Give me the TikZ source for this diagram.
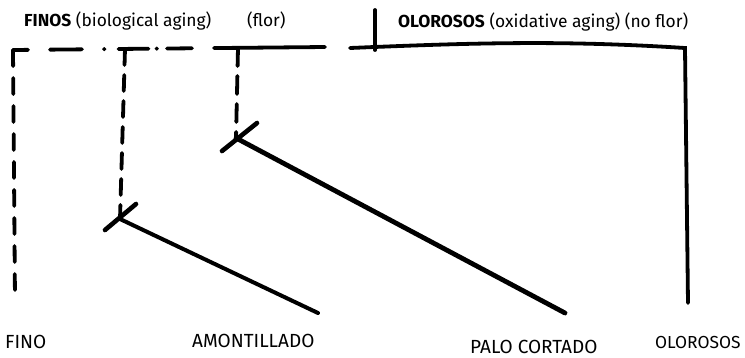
\documentclass[tikz,border=0pt]{standalone}
\usepackage{fontspec}
\setmainfont{Fira Sans}
\usepackage{tikz}
\usetikzlibrary{positioning}

\tikzset{
  stroke/.style={line width=3.8pt, line cap=round, black},
  tick/.style={line width=4.6pt, line cap=round, black},
  branch/.style={line width=4pt, line cap=round, black},
  dashline/.style={stroke, dash pattern=on 16pt off 12pt},
  label/.style={inner sep=0pt, anchor=base west, font=\fontsize{19}{22}\selectfont},
  title/.style={inner sep=0pt, anchor=base west, font=\fontsize{17.4}{20}\selectfont}
}

\begin{document}
\begin{tikzpicture}[x=1pt, y=1pt]
  \useasboundingbox (0,0) rectangle (745,-357);

  % headings
  \node[title] (finos) at (24,-26) {\textbf{FINOS} (biological aging)};
  \node[title] (flor) at (247,-26) {(flor)};
  \node[title] (olorososh) at (398,-27) {\textbf{OLOROSOS} (oxidative aging) (no flor)};

  % bottom labels
  \node[label] (fino) at (5,-348) {FINO};
  \node[label] (amont) at (192,-347) {AMONTILLADO};
  \node[label] (palo) at (470,-353) {PALO CORTADO};
  \node[label, font=\fontsize{17.4}{20}\selectfont] (oloroso) at (655,-348) {OLOROSOS};

  % end points
  \coordinate (finotop) at (13,-50);
  \coordinate (finoend) at (15,-300);
  \coordinate (barend) at (325,-47);
  \coordinate (amtop) at (125,-49);
  \coordinate (jam) at (120,-219);
  \coordinate (amend) at (318,-313);
  \coordinate (palotop) at (238,-48);
  \coordinate (jpalo) at (236,-138);
  \coordinate (paloend) at (565,-313);
  \coordinate (olstart) at (350,-48);
  \coordinate (olcorner) at (685,-48);
  \coordinate (olend) at (688,-303);
  \coordinate (olticktop) at (375,-10);
  \coordinate (oltick) at (375,-50);

  % finos bar: dash-dot, then solid
  \draw[stroke, dash pattern=on 15pt off 22pt on 32pt off 22pt on 0.5pt off 14pt on 30pt off 8pt on 0.5pt off 10pt on 25pt off 22pt on 120pt]
    (finotop) -- (barend);

  % finos branches
  \draw[dashline] (finotop) -- (finoend);
  \draw[stroke, dash pattern=on 16pt off 10pt] (amtop) -- (jam);
  \draw[stroke, dash pattern=on 18pt off 10pt] (palotop) -- (jpalo);

  % turning points
  \draw[tick] (jam) ++(-15,-11) -- ++(31,26);
  \draw[branch] (jam) -- (amend);
  \draw[tick] (jpalo) ++(-14,-13) -- ++(35,28);
  \draw[branch, line width=4.8pt] (jpalo) -- (paloend);

  % olorosos bar
  \draw[stroke] (olstart) .. controls (470,-43) and (560,-40) .. (olcorner) -- (olend);
  \draw[stroke] (olticktop) -- (oltick);
\end{tikzpicture}
\end{document}
